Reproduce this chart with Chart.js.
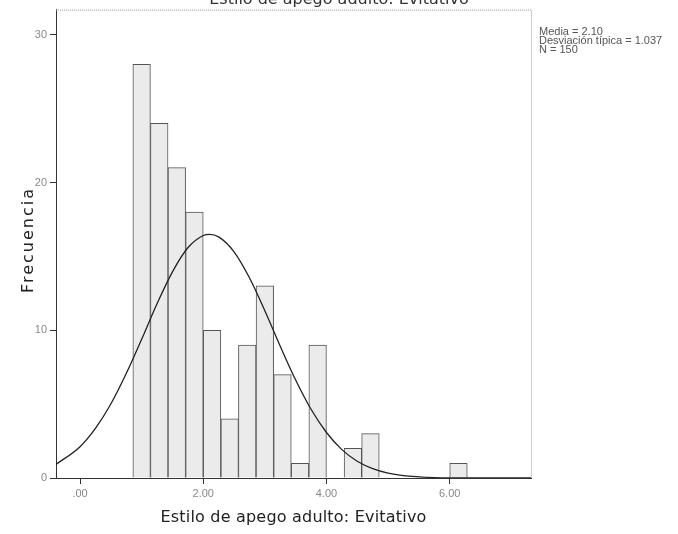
<!DOCTYPE html>
<html>
<head>
<meta charset="utf-8">
<script src="https://cdn.jsdelivr.net/npm/chart.js@4"></script>
<style>
  html, body { margin: 0; padding: 0; background: #fff; }
  canvas { display: block; }
</style>
</head>
<body>
<canvas id="histChart" width="678" height="534"></canvas>
<script>
// Histogram data (bin centres, counts)
const binCenters = [1.000, 1.286, 1.571, 1.857, 2.143, 2.429, 2.714, 3.000, 3.286, 3.571,
                    3.857, 4.143, 4.429, 4.714, 5.000, 5.286, 5.571, 5.857, 6.143];
const counts = [28, 24, 21, 18, 10, 4, 9, 13, 7, 1, 9, 0, 2, 3, 0, 0, 0, 0, 1];

// Normal curve
const curveX = [-0.39, 0, 0.25, 0.5, 0.75, 1, 1.25, 1.5, 1.75, 2, 2.1, 2.25, 2.5, 2.75, 3,
                3.25, 3.5, 3.75, 4, 4.25, 4.5, 4.75, 5, 5.25, 5.5, 5.75, 6, 6.5, 7, 7.32];
const curveY = [0.92, 2.12, 3.36, 5.01, 7.07, 9.39, 11.79, 13.95, 15.58, 16.41, 16.49, 16.32,
                15.31, 13.55, 11.32, 8.92, 6.63, 4.65, 3.08, 1.92, 1.13, 0.63, 0.33, 0.16,
                0.08, 0.03, 0.01, 0, 0, 0];

// Axis ticks
const xTicks = [0, 2, 4, 6];
const xTickLabels = [".00", "2.00", "4.00", "6.00"];
const yTicks = [0, 10, 20, 30];

const stats = ["Media = 2.10", "Desviación típica = 1.037", "N = 150"];
const title = "Estilo de apego adulto: Evitativo";
const xTitle = "Estilo de apego adulto: Evitativo";
const yTitle = "Frecuencia";

// Texts + dotted frame drawn after the chart
const decorPlugin = {
  id: "decor",
  afterDraw(chart) {
    const { ctx, chartArea: a } = chart;
    ctx.save();
    // dotted top / right frame
    ctx.strokeStyle = "#999";
    ctx.lineWidth = 1;
    ctx.setLineDash([1, 1]);
    ctx.beginPath();
    ctx.moveTo(a.left, a.top + 0.5);
    ctx.lineTo(a.right + 0.5, a.top + 0.5);
    ctx.lineTo(a.right + 0.5, a.bottom);
    ctx.stroke();
    ctx.setLineDash([]);

    // cut-off title at top
    ctx.fillStyle = "#333";
    ctx.font = "16px 'DejaVu Sans'";
    ctx.textAlign = "center";
    ctx.textBaseline = "alphabetic";
    ctx.fillText(title, 339, 4);

    // x axis title
    ctx.fillStyle = "#222";
    ctx.letterSpacing = "0.2px";
    ctx.fillText(xTitle, (a.left + a.right) / 2, 522);

    // y axis title
    ctx.save();
    ctx.translate(33, 240);
    ctx.rotate(-Math.PI / 2);
    ctx.letterSpacing = "2px";
    ctx.fillText(yTitle, 0, 0);
    ctx.restore();

    // stats box
    ctx.letterSpacing = "0px";
    ctx.fillStyle = "#555";
    ctx.font = "11px 'Liberation Sans'";
    ctx.textAlign = "left";
    ctx.textBaseline = "middle";
    stats.forEach((s, i) => ctx.fillText(s, 539, 32 + i * 9));
    ctx.restore();
  }
};

const ctxHist = document.getElementById("histChart");
new Chart(ctxHist, {
  data: {
    datasets: [
      {
        type: "line",
        data: curveX.map((x, i) => ({ x: x, y: curveY[i] })),
        borderColor: "#222",
        borderWidth: 1.3,
        pointRadius: 0,
        fill: false,
        cubicInterpolationMode: "monotone",
        order: 0
      },
      {
        type: "bar",
        data: binCenters.map((x, i) => ({ x: x, y: counts[i] })),
        backgroundColor: "#ebebeb",
        borderColor: "#555",
        borderWidth: 1,
        barPercentage: 1,
        categoryPercentage: 1,
        order: 1
      }
    ]
  },
  options: {
    responsive: false,
    animation: false,
    layout: { padding: { top: 9, right: 147, left: 0, bottom: 0 } },
    plugins: {
      legend: { display: false },
      tooltip: { enabled: false }
    },
    scales: {
      x: {
        type: "linear",
        offset: false,
        min: -0.39,
        max: 7.32,
        afterFit(s) { s.height = 56; },
        afterBuildTicks(s) { s.ticks = xTicks.map(v => ({ value: v })); },
        ticks: {
          callback: (v, i) => xTickLabels[i],
          color: "#888",
          font: { family: "Liberation Sans", size: 11 },
          padding: 3,
          maxRotation: 0,
          autoSkip: false
        },
        grid: { offset: false, drawOnChartArea: false, drawTicks: true, tickLength: 6, color: "#333" },
        border: { color: "#333", width: 1 }
      },
      y: {
        min: 0,
        max: 31.7,
        afterFit(s) { s.width = 56; },
        afterBuildTicks(s) { s.ticks = yTicks.map(v => ({ value: v })); },
        ticks: {
          color: "#888",
          font: { family: "Liberation Sans", size: 11 },
          padding: 3
        },
        grid: { drawOnChartArea: false, drawTicks: true, tickLength: 6, color: "#333" },
        border: { color: "#333", width: 1 }
      }
    }
  },
  plugins: [decorPlugin]
});
</script>
</body>
</html>
